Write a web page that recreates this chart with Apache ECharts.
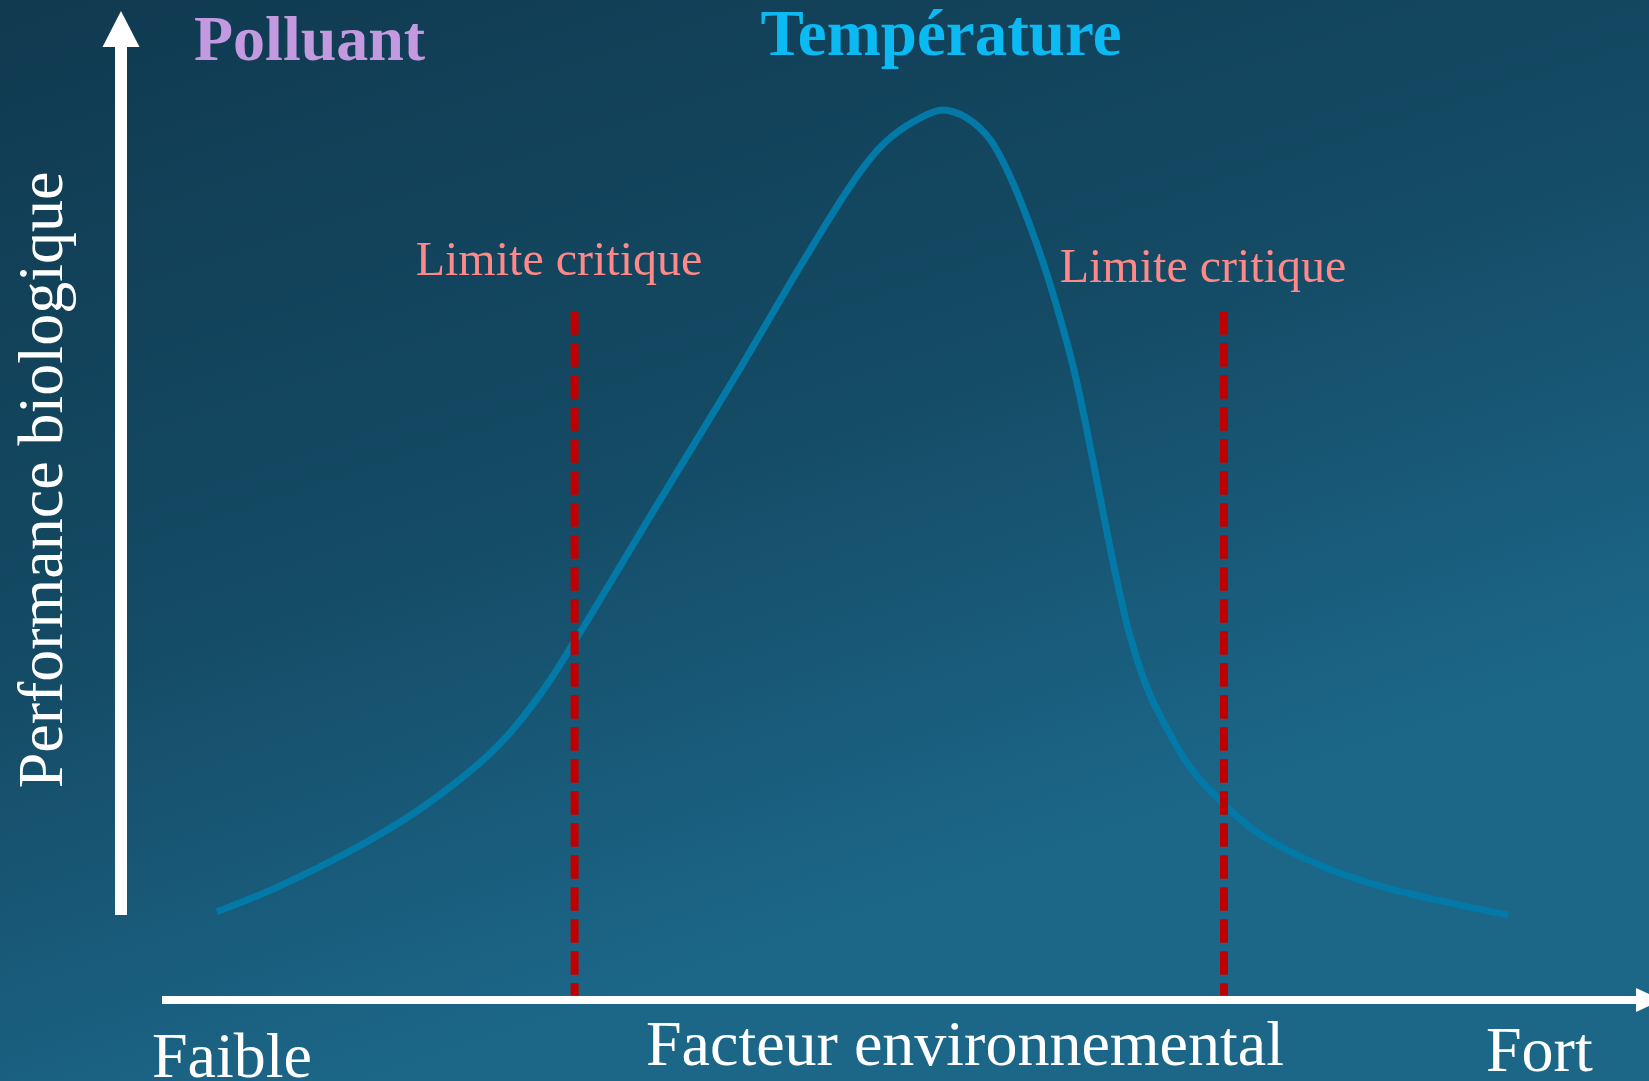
<!DOCTYPE html>
<html><head><meta charset="utf-8">
<script src="https://cdn.jsdelivr.net/npm/echarts@6/dist/echarts.min.js"></script>
<style>html,body{margin:0;padding:0;overflow:hidden;background:#123e54}#c{width:1649px;height:1081px}</style>
</head><body><div id="c"></div>
<script>
// Environmental factor (x, 0 = Faible ... 100 = Fort)
const factor = [0, 4.6, 10.5, 15.3, 19.4, 22.4, 25.3, 27.7, 29.8, 33.5, 37.3, 40.6, 44.4, 47.7, 49.9, 51.7, 53.9, 56.2, 58.0, 59.9, 61.5, 63.1, 64.5, 66.2, 67.2, 68.6, 69.7, 70.7, 72.0, 73.6, 75.4, 77.9, 81.0, 85.7, 90.3, 95.5, 100];
// Biological performance (y, 0..100)
const performance = [0.4, 3.4, 8.1, 12.7, 17.6, 22.1, 28.0, 34.0, 39.5, 49.4, 59.4, 68.1, 78.5, 87.2, 92.5, 95.9, 98.5, 100, 99.1, 96.3, 91.5, 85.1, 78.5, 68.9, 61.7, 50.3, 41.6, 34.8, 28.4, 23.1, 18.3, 13.9, 9.8, 6.0, 3.5, 1.5, 0];
// Critical limits (x positions) and vertical span of their dashed markers
const criticalLimits = [27.7, 78.0];
const criticalSpan = [75, -10];
const criticalLabel = 'Limite critique';
const headerLabels = ['Polluant', 'Température'];
const xAxisName = 'Facteur environnemental';
const yAxisName = 'Performance biologique';
const xEndLabels = ['Faible', 'Fort'];

const serif = '"Liberation Serif", "Times New Roman", serif';
const chart = echarts.init(document.getElementById('c'), null, {renderer: 'canvas'});

const curveData = factor.map((x, i) => [x, performance[i]]);
const limitSeries = criticalLimits.map(x => ({
  type: 'line', xAxisIndex: 0, yAxisIndex: 0, clip: false, silent: true,
  symbol: 'none', z: 4,
  data: [[x, criticalSpan[0]], [x, criticalSpan[1]]],
  lineStyle: {color: '#c00000', width: 8, type: [23.5, 8.5], cap: 'butt'}
}));

// text placed by baseline: 'bottom' alignment puts the descent (~0.245em) under the baseline
const D = 0.245;
function txt(text, size, weight, color, x, baseline, align) {
  return {type: 'text', x: x, y: baseline + D * size,
    style: {text: text, font: weight + ' ' + size + 'px ' + serif, fill: color, align: align, verticalAlign: 'bottom'}};
}

const hidden = {show: false};
chart.setOption({
  animation: false,
  backgroundColor: {
    type: 'linear', x: 0, y: 0, x2: 0.22, y2: 1,
    colorStops: [
      {offset: 0, color: '#103a50'},
      {offset: 0.55, color: '#144a64'},
      {offset: 1, color: '#1c6688'}
    ]
  },
  grid: [
    {left: 217, right: 141, top: 110, bottom: 166},
    {left: 162, right: 0, top: 0, bottom: 81},
    {left: 121, right: 0, top: 29, bottom: 166}
  ],
  xAxis: [
    {gridIndex: 0, type: 'value', min: 0, max: 100, show: false},
    {gridIndex: 1, type: 'value', min: 0, max: 1, z: 10,
      axisLine: {show: true, onZero: false, symbol: ['none', 'triangle'], symbolSize: [24, 26],
        lineStyle: {color: '#ffffff', width: 8, cap: 'butt'}},
      axisTick: hidden, axisLabel: hidden, splitLine: hidden},
    {gridIndex: 2, type: 'value', min: 0, max: 1, show: false}
  ],
  yAxis: [
    {gridIndex: 0, type: 'value', min: 0, max: 100, show: false},
    {gridIndex: 1, type: 'value', min: 0, max: 1, show: false},
    {gridIndex: 2, type: 'value', min: 0, max: 1, z: 10,
      axisLine: {show: true, onZero: false, symbol: ['none', 'triangle'], symbolSize: [37, 36],
        lineStyle: {color: '#ffffff', width: 12, cap: 'butt'}},
      axisTick: hidden, axisLabel: hidden, splitLine: hidden}
  ],
  series: [
    {type: 'line', xAxisIndex: 0, yAxisIndex: 0, data: curveData, smooth: 0.3,
      symbol: 'none', clip: false, z: 3,
      lineStyle: {color: '#0279a6', width: 7}}
  ].concat(limitSeries),
  graphic: [
    txt(headerLabels[0], 64, 'bold', '#c39ae0', 194, 60, 'left'),
    txt(headerLabels[1], 65, 'bold', '#0bb9f3', 941, 55, 'center'),
    txt(criticalLabel, 48, 'normal', '#ff8888', 559, 275, 'center'),
    txt(criticalLabel, 48, 'normal', '#ff8888', 1203, 282, 'center'),
    txt(xAxisName, 64, 'normal', '#ffffff', 965, 1065, 'center'),
    txt(xEndLabels[0], 64, 'normal', '#ffffff', 152, 1077, 'left'),
    txt(xEndLabels[1], 64, 'normal', '#ffffff', 1486, 1071, 'left'),
    {type: 'text', x: 62 + D * 64, y: 480, rotation: Math.PI / 2,
      style: {text: yAxisName, font: 'normal 64px ' + serif, fill: '#ffffff', align: 'center', verticalAlign: 'bottom'}}
  ]
});
</script></body></html>
